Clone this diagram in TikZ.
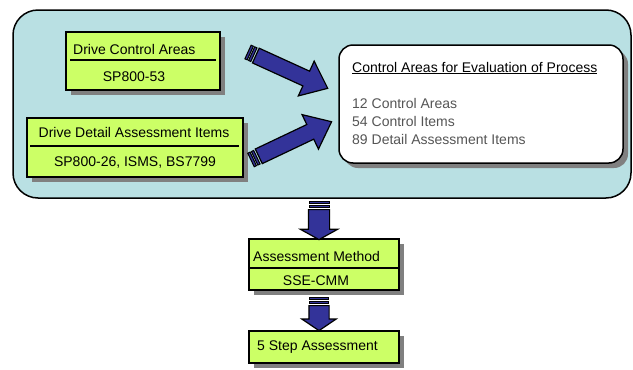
\documentclass[tikz,border=0pt]{standalone}
\usepackage{fontspec}
\setmainfont{Liberation Sans}
\usetikzlibrary{shapes.arrows,shadows}
\definecolor{panelblue}{HTML}{B9E0E3}
\definecolor{limegreen}{HTML}{CCFF66}
\definecolor{arrowblue}{HTML}{333399}
\definecolor{itemgray}{HTML}{555555}
\definecolor{shadowgray}{HTML}{808080}
\tikzset{
  panel/.style={draw=black, line width=1.5pt, fill=panelblue, rounded corners=25pt},
  greenbox/.style={draw=black, line width=1.2pt, fill=limegreen, inner sep=0pt,
    drop shadow={shadow xshift=5pt, shadow yshift=-5pt, fill=shadowgray, opacity=1}},
  whitebox/.style={draw=black, line width=1.5pt, fill=white, rounded corners=14pt, inner sep=0pt,
    drop shadow={shadow xshift=5pt, shadow yshift=-5pt, fill=shadowgray, opacity=1}},
  divider/.style={draw=black, line width=1.2pt},
  txt/.style={inner sep=0pt, font=\fontsize{14}{16}\selectfont},
  blockarrow/.style={single arrow, draw=black, line width=1.2pt, fill=arrowblue, inner xsep=0pt},
  arrowpart/.style={draw=black, line width=1pt, fill=arrowblue}
}
\begin{document}
\begin{tikzpicture}[x=1pt,y=1pt]
  \useasboundingbox (0,0) rectangle (633,-370);
  % Outer panel
  \draw[panel] (13,-10) rectangle (631,-198);
  % Drive boxes
  \node[greenbox, minimum width=154pt, minimum height=58pt] (dca) at (143,-61) {};
  \draw[divider] (70,-60) -- (216,-60);
  \node[txt, anchor=west] (dcaTitle) at (73,-49) {Drive Control Areas};
  \node[txt] (dcaRef) at (134,-77) {SP800-53};
  \node[greenbox, minimum width=216pt, minimum height=59pt] (ddai) at (135,-147.5) {};
  \draw[divider] (30,-146) -- (239,-146);
  \node[txt] (ddaiTitle) at (134,-132) {Drive Detail Assessment Items};
  \node[txt] (ddaiRef) at (135,-163) {SP800-26, ISMS, BS7799};
  % Control areas box
  \node[whitebox, minimum width=284pt, minimum height=118pt] (cae) at (481,-104) {};
  \node[txt, anchor=west] (caeTitle) at (352,-68) {\underline{Control Areas for Evaluation of Process}};
  \node[txt, anchor=west, text=itemgray] (caeAreas) at (352,-103) {12 Control Areas};
  \node[txt, anchor=west, text=itemgray] (caeItems) at (352,-121) {54 Control Items};
  \node[txt, anchor=west, text=itemgray] (caeDetail) at (352,-139) {89 Detail Assessment Items};
  % Assessment boxes
  \node[greenbox, minimum width=150pt, minimum height=51pt] (am) at (324,-264.5) {};
  \draw[divider] (249,-268) -- (399,-268);
  \node[txt, anchor=west] (amTitle) at (253,-256) {Assessment Method};
  \node[txt] (amRef) at (316,-281) {SSE-CMM};
  \node[greenbox, minimum width=150pt, minimum height=32pt] (step) at (324,-347) {};
  \node[txt, anchor=west] (stepTitle) at (257,-347) {5 Step Assessment};
  % Block arrows with striped tails
  \foreach \name/\tx/\ty/\ang/\len/\hw/\ext/\tip in
    {arrDCA/248/-52/-24.5/79/7.5/11/78, arrDDAI/251/-160/25.4/80.6/7.5/11/78,
     arrAM/319/-201/-90/30/10/8/122, arrStep/319/-297/-90/25/9.5/7/112}{
    \begin{scope}[shift={(\tx,\ty)}, rotate=\ang]
      \draw[arrowpart] (0,-\hw) rectangle (2.5,\hw);
      \draw[arrowpart] (4,-\hw) rectangle (6.5,\hw);
      \node[blockarrow, transform shape, anchor=tail, minimum height=\len pt,
        inner ysep=\hw pt, single arrow head extend=\ext pt,
        single arrow tip angle=\tip] (\name) at (8,0) {};
    \end{scope}
  }
\end{tikzpicture}
\end{document}
